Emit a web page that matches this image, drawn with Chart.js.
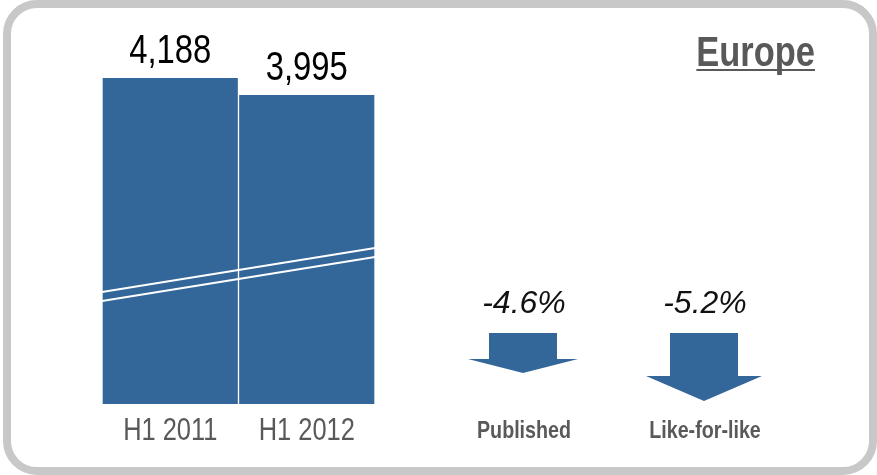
<!DOCTYPE html>
<html>
<head>
<meta charset="utf-8">
<script src="https://cdn.jsdelivr.net/npm/chart.js@4/dist/chart.umd.min.js"></script>
<style>
    html, body { margin: 0; padding: 0; background: #fff; }
    #wrap { position: relative; width: 877px; height: 475px; overflow: hidden; }
    #frame {
        position: absolute; left: 3px; top: 0; width: 874px; height: 475px;
        box-sizing: border-box; border: 8px solid #c8c8c8; border-radius: 34px;
    }
    #chart { position: absolute; left: 0; top: 0; }
</style>
</head>
<body>
<div id="wrap">
    <div id="frame"></div>
    <canvas id="chart" width="877" height="475"></canvas>
</div>
<script>
const periods = ["H1 2011", "H1 2012"];
const sales = [4188, 3995];
const region = "Europe";
const changeLabels = ["Published", "Like-for-like"];
const changeValues = [-4.6, -5.2];

const barColor = "#336699";
const sans = "'Liberation Sans', Arial, sans-serif";
const NARROW = 0.82; // squeeze factor, no narrow face installed

// arrow geometry: centre x, shaft half-width, shaft top/bottom, head half-width, tip y
const arrows = [
    { x: 523, shaft: 34, top: 333, base: 359, head: 55, tip: 373 },
    { x: 704, shaft: 34, top: 333, base: 376, head: 58, tip: 401 }
];

function text(ctx, str, x, y, font, color, align, sx) {
    ctx.save();
    ctx.font = font;
    ctx.fillStyle = color;
    ctx.textAlign = align;
    ctx.textBaseline = 'alphabetic';
    ctx.translate(x, y);
    ctx.scale(sx, 1);
    ctx.fillText(str, 0, 0);
    const w = ctx.measureText(str).width * sx;
    ctx.restore();
    return w;
}

const extras = {
    id: 'extras',
    afterDatasetsDraw(chart) {
        const ctx = chart.ctx;
        const area = chart.chartArea;
        const meta = chart.getDatasetMeta(0);

        // axis break lines across the bars
        ctx.save();
        ctx.strokeStyle = '#fff';
        ctx.lineWidth = 2;
        [[292, 248], [301, 257]].forEach(([y0, y1]) => {
            ctx.beginPath();
            ctx.moveTo(area.left, y0);
            ctx.lineTo(area.right, y1);
            ctx.stroke();
        });
        ctx.restore();

        // values and period labels
        meta.data.forEach((bar, i) => {
            text(ctx, sales[i].toLocaleString('en-US'), bar.x, bar.y - 15,
                `40px ${sans}`, '#000', 'center', NARROW);
            text(ctx, periods[i], bar.x, 440, `31px ${sans}`, '#595959', 'center', NARROW);
        });

        // region title, underlined
        const w = text(ctx, region, 815, 66, `bold 42px ${sans}`, '#595959', 'right', NARROW);
        ctx.fillStyle = '#595959';
        ctx.fillRect(815 - w, 69, w, 2);

        // change arrows
        arrows.forEach((a, i) => {
            ctx.fillStyle = barColor;
            ctx.beginPath();
            ctx.moveTo(a.x - a.shaft, a.top);
            ctx.lineTo(a.x + a.shaft, a.top);
            ctx.lineTo(a.x + a.shaft, a.base);
            ctx.lineTo(a.x + a.head, a.base);
            ctx.lineTo(a.x, a.tip);
            ctx.lineTo(a.x - a.head, a.base);
            ctx.lineTo(a.x - a.shaft, a.base);
            ctx.closePath();
            ctx.fill();

            text(ctx, changeValues[i].toFixed(1) + '%', a.x + 1, 313,
                `italic 32px ${sans}`, '#111', 'center', 1);
            text(ctx, changeLabels[i], a.x + 1, 438, `bold 24px ${sans}`, '#595959', 'center', NARROW);
        });
    }
};

new Chart(document.getElementById('chart'), {
    type: 'bar',
    data: {
        labels: periods,
        datasets: [{
            data: sales,
            backgroundColor: barColor,
            borderColor: '#fff',
            borderWidth: { left: 1, right: 1, top: 0, bottom: 0 },
            borderSkipped: false,
            barPercentage: 1,
            categoryPercentage: 1
        }]
    },
    options: {
        responsive: false,
        animation: false,
        layout: { padding: { left: 102, right: 502, top: 24, bottom: 71 } },
        plugins: { legend: { display: false }, tooltip: { enabled: false } },
        scales: {
            x: { display: false },
            y: { display: false, min: 490, max: 4800 }
        }
    },
    plugins: [extras]
});
</script>
</body>
</html>
